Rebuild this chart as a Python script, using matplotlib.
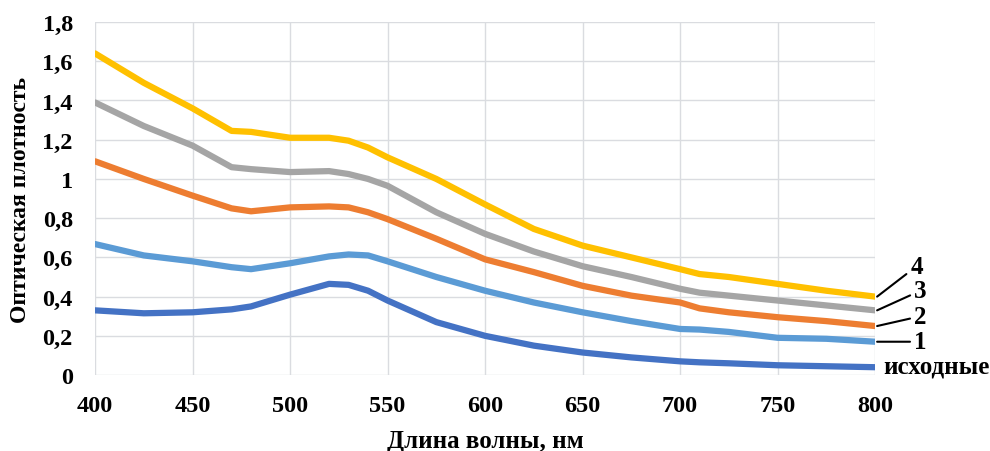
import numpy as np
import matplotlib
matplotlib.use("Agg")
import matplotlib.pyplot as plt

plt.rcParams['font.family'] = ['Liberation Serif', 'DejaVu Serif']
plt.rcParams['font.weight'] = 'bold'
plt.rcParams['axes.labelweight'] = 'bold'

# wavelength, nm
wl = [400, 425, 450, 470, 480, 500, 520, 530, 540, 550, 575,
      600, 625, 650, 675, 700, 710, 725, 750, 775, 800]

ishodnye = [0.33, 0.315, 0.32, 0.335, 0.35, 0.41, 0.465, 0.46, 0.43, 0.38, 0.27,
            0.20, 0.15, 0.115, 0.09, 0.07, 0.065, 0.06, 0.05, 0.045, 0.04]
s1 = [0.668, 0.61, 0.58, 0.55, 0.54, 0.57, 0.605, 0.615, 0.61, 0.58, 0.50,
      0.43, 0.37, 0.32, 0.275, 0.235, 0.232, 0.22, 0.19, 0.185, 0.17]
s2 = [1.09, 1.0, 0.915, 0.85, 0.835, 0.855, 0.86, 0.855, 0.83, 0.795, 0.695,
      0.59, 0.525, 0.455, 0.405, 0.37, 0.34, 0.32, 0.295, 0.275, 0.25]
s3 = [1.39, 1.27, 1.17, 1.06, 1.05, 1.035, 1.04, 1.025, 1.0, 0.965, 0.83,
      0.72, 0.63, 0.555, 0.50, 0.44, 0.42, 0.405, 0.38, 0.355, 0.33]
s4 = [1.64, 1.49, 1.36, 1.245, 1.24, 1.21, 1.21, 1.195, 1.16, 1.11, 1.0,
      0.87, 0.745, 0.66, 0.60, 0.54, 0.515, 0.50, 0.465, 0.43, 0.40]

series = [ishodnye, s1, s2, s3, s4]
colors = ['#4472C4', '#5B9BD5', '#ED7D31', '#A5A5A5', '#FFC000']
labels = ['исходные', '1', '2', '3', '4']
# label anchor positions (nm, optical density)
label_pos = [(804, 0.045), (820, 0.17), (820, 0.30), (820, 0.43), (818, 0.555)]

fig = plt.figure(figsize=(9.9, 4.52), dpi=100)
ax = fig.add_axes([0.096, 0.168, 0.788, 0.781])

for y, c in zip(series, colors):
    ax.plot(wl, y, color=c, linewidth=4.5, solid_capstyle='round', solid_joinstyle='round')

for i, (lab, y) in enumerate(zip(labels, series)):
    tx, ty = label_pos[i]
    if i == 0:
        ax.text(tx, ty, lab, fontsize=18, ha='left', va='center', clip_on=False)
    else:
        ax.annotate(lab, xy=(wl[-1] + 1, y[-1]), xytext=(tx, ty),
                    fontsize=18, ha='left', va='center', annotation_clip=False,
                    arrowprops=dict(arrowstyle='-', color='black', lw=1.5,
                                    shrinkA=1, shrinkB=0))

ax.set_xlim(400, 800)
ax.set_ylim(0, 1.8)
ax.set_xticks(np.arange(400, 801, 50))
ax.set_yticks(np.arange(0, 1.81, 0.2))
ax.set_yticklabels(['0' if v == 0 else ('1' if abs(v - 1) < 1e-9 else f'{v:.1f}'.replace('.', ','))
                    for v in np.arange(0, 1.81, 0.2)])
ax.tick_params(axis='both', length=0, labelsize=17.5)
ax.tick_params(axis='x', pad=14)
ax.tick_params(axis='y', pad=16)
for sp in ax.spines.values():
    sp.set_visible(False)
ax.grid(True, color='#DADCE0', linewidth=1)
ax.set_axisbelow(True)

ax.set_xlabel('Длина волны, нм', fontsize=18, labelpad=10)
ax.set_ylabel('Оптическая плотность', fontsize=17, labelpad=8)

fig.savefig('out.png', dpi=100)
